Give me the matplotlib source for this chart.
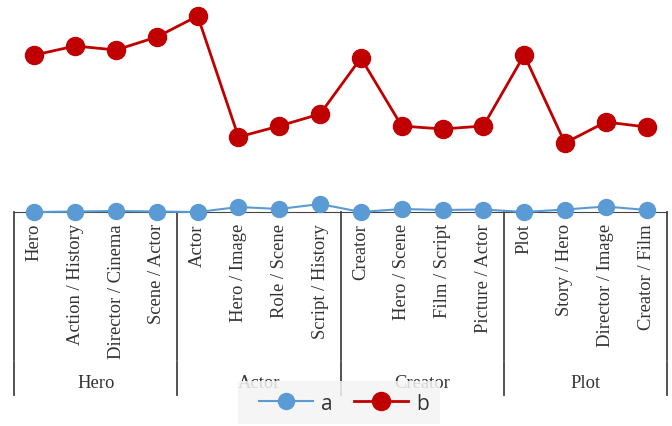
import matplotlib.pyplot as plt
from matplotlib.patches import Rectangle
import numpy as np

# dados
grupos = ['Hero', 'Actor', 'Creator', 'Plot']
categorias = ['Hero', 'Action / History', 'Director / Cinema', 'Scene / Actor',
              'Actor', 'Hero / Image', 'Role / Scene', 'Script / History',
              'Creator', 'Hero / Scene', 'Film / Script', 'Picture / Actor',
              'Plot', 'Story / Hero', 'Director / Image', 'Creator / Film']
a = [0, 0.5, 1, 0.5, 0, 5, 3, 8, 0, 3, 2, 2.5, 0, 2.5, 5.5, 2]
b = [157, 166, 162, 175, 196, 75, 86, 98, 154, 86, 83, 86, 157, 69, 90, 85]

W, H = 672, 427
fig = plt.figure(figsize=(W / 100, H / 100), dpi=100)
ax = fig.add_axes([14 / W, (H - 213) / H, 653 / W, 213 / H])

x = np.arange(len(categorias))
ax.plot(x, a, color='#5b9bd5', lw=1.5, marker='o', ms=11.5, clip_on=False, zorder=3, label='a')
ax.plot(x, b, color='#c00000', lw=2, marker='o', ms=13, clip_on=False, zorder=3, label='b')

ax.set_xlim(-0.5, len(categorias) - 0.5)
ax.set_ylim(0, 213)
for s in ['top', 'right', 'left']:
    ax.spines[s].set_visible(False)
ax.spines['bottom'].set_color('#444444')
ax.set_yticks([])
ax.set_xticks(x)
ax.set_xticklabels(categorias, rotation=90, va='top', family='Liberation Serif',
                   fontsize=13.4, color='#333333')
ax.tick_params(axis='x', length=0, pad=8)

# linhas de separação dos grupos
px = 1 / 213
for i in range(len(grupos) + 1):
    xs = i * 4 - 0.5
    ax.plot([xs, xs], [0, -148 * px], transform=ax.get_xaxis_transform(),
            color='#444444', lw=1.3, clip_on=False)
    ax.plot([xs, xs], [-150 * px, -183 * px], transform=ax.get_xaxis_transform(),
            color='#444444', lw=1.3, clip_on=False)
for i, g in enumerate(grupos):
    ax.text(i * 4 + 1.5, -171 * px, g, transform=ax.get_xaxis_transform(),
            ha='center', va='center', family='Liberation Serif', fontsize=13.4, color='#333333')

# fundo da legenda
fig.patches.append(Rectangle((238 / W, 2 / H), 202 / W, 43 / H, transform=fig.transFigure,
                             facecolor='#f4f4f4', edgecolor='none', alpha=0.85, zorder=1))

leg = fig.legend(loc='lower center', bbox_to_anchor=(344 / W, 2 / H), ncol=2, frameon=False,
                 prop={'family': 'Open Sans', 'size': 15}, handlelength=2.6,
                 handletextpad=0.4, columnspacing=1.0, borderpad=0.5, borderaxespad=0)
for t in leg.get_texts():
    t.set_color('#333333')

fig.savefig('out.png', dpi=100)
